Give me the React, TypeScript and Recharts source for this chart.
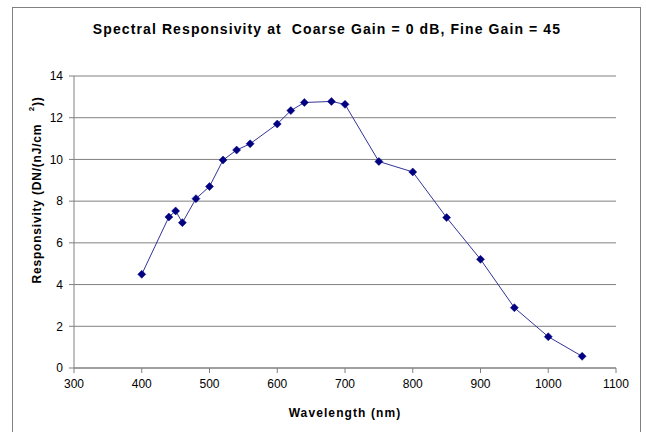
import React from 'react';
import { LineChart, Line, XAxis, YAxis, CartesianGrid } from 'recharts';

const wavelengths = [400, 440, 450, 460, 480, 500, 520, 540, 560, 600, 620, 640, 680, 700, 750, 800, 850, 900, 950, 1000, 1050];
const responsivity = [4.49, 7.24, 7.53, 6.97, 8.12, 8.7, 9.97, 10.45, 10.75, 11.7, 12.34, 12.73, 12.78, 12.64, 9.9, 9.4, 7.21, 5.21, 2.89, 1.5, 0.56];
const xTicks = [300, 400, 500, 600, 700, 800, 900, 1000, 1100];
const yTicks = [0, 2, 4, 6, 8, 10, 12, 14];

const chartData = wavelengths.map((w, i) => ({ wl: w, resp: responsivity[i] }));

const FONT = '"Liberation Sans", Arial, sans-serif';

const Diamond = (props: any) => {
  const { cx, cy } = props;
  if (cx == null || cy == null) return null;
  const r = 4;
  return (
    <path
      d={`M${cx},${cy - r} L${cx + r},${cy} L${cx},${cy + r} L${cx - r},${cy} Z`}
      fill="#000080"
      stroke="#000080"
      strokeWidth={0.5}
    />
  );
};

const YLabel = () => (
  <text
    x={37}
    y={190}
    transform="rotate(-90 37 190)"
    textAnchor="middle"
    dominantBaseline="central"
    fontFamily={FONT}
    fontWeight="bold"
    fontSize={12}
    letterSpacing={0.8}
    fill="#000"
  >
    <tspan>Responsivity (DN/(nJ/cm&#160;&#160;&#160;</tspan>
    <tspan dy={-6} fontSize={8}>2</tspan>
    <tspan dy={6}>))</tspan>
  </text>
);

export default function App() {
  return (
    <div style={{ position: 'absolute', left: 0, top: 0, width: 646, height: 432, background: '#fff', overflow: 'hidden' }}>
      <div
        style={{
          position: 'absolute',
          left: 12,
          top: 7,
          width: 629,
          height: 440,
          border: '1px solid #808080',
          boxSizing: 'border-box',
        }}
      />
      <div
        style={{
          position: 'absolute',
          left: 0,
          top: 21,
          width: 654,
          textAlign: 'center',
          fontFamily: FONT,
          fontWeight: 'bold',
          fontSize: 14,
          letterSpacing: 1.1,
          color: '#000',
        }}
      >
        Spectral Responsivity at&#160; Coarse Gain = 0 dB, Fine Gain = 45
      </div>
      <div style={{ position: 'absolute', left: 0, top: 0 }}>
        <LineChart width={646} height={432} data={chartData} margin={{ top: 76, right: 30, bottom: 34, left: 24 }}>
          <CartesianGrid horizontal vertical={false} stroke="#808080" strokeWidth={1} />
          <XAxis
            dataKey="wl"
            type="number"
            domain={[300, 1100]}
            ticks={xTicks}
            allowDataOverflow
            height={30}
            tickSize={5}
            tick={{ fontSize: 12, fill: '#000', fontFamily: FONT, dy: 4 }}
            stroke="#808080"
            tickLine={{ stroke: '#808080' }}
            label={{
              value: 'Wavelength (nm)',
              position: 'insideBottom',
              offset: -19,
              fontFamily: FONT,
              fontWeight: 'bold',
              fontSize: 12,
              letterSpacing: 1.1,
              fill: '#000',
            }}
          />
          <YAxis
            type="number"
            domain={[0, 14]}
            ticks={yTicks}
            width={50}
            tickSize={5}
            tick={{ fontSize: 12, fill: '#000', fontFamily: FONT, dx: -4 }}
            stroke="#808080"
            tickLine={{ stroke: '#808080' }}
            label={<YLabel />}
          />
          <Line
            type="linear"
            dataKey="resp"
            stroke="#333399"
            strokeWidth={1}
            dot={<Diamond />}
            activeDot={false}
            isAnimationActive={false}
          />
        </LineChart>
      </div>
    </div>
  );
}
